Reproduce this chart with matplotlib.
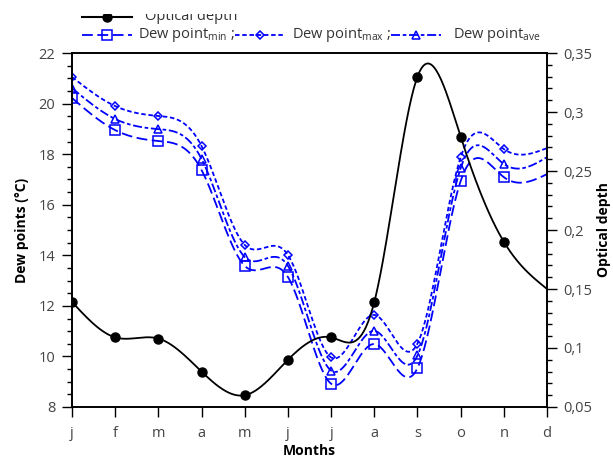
import numpy as np
import matplotlib
matplotlib.use("Agg")
import matplotlib.pyplot as plt
from matplotlib.ticker import MultipleLocator, FuncFormatter
from matplotlib.lines import Line2D
from matplotlib.patches import Rectangle

plt.rcParams['font.family'] = ['Open Sans', 'DejaVu Sans']
plt.rcParams['mathtext.fontset'] = 'custom'
plt.rcParams['mathtext.rm'] = 'Open Sans'

# Data
months = ["j", "f", "m", "a", "m", "j", "j", "a", "s", "o", "n", "d"]
optical_depth = [0.139, 0.109, 0.108, 0.080, 0.060, 0.090, 0.109, 0.139, 0.330, 0.279, 0.190, 0.150]
dew_min = [20.22, 18.95, 18.52, 17.37, 13.58, 13.14, 8.92, 10.49, 9.54, 16.94, 17.09, 17.21]
dew_max = [21.05, 19.90, 19.51, 18.32, 14.41, 14.01, 9.96, 11.64, 10.51, 17.88, 18.20, 18.24]
dew_ave = [20.61, 19.39, 18.99, 17.81, 13.93, 13.58, 9.44, 11.01, 10.04, 17.45, 17.61, 17.88]


def natural_spline(x, y, n=400):
    # natural cubic spline through the points (smooth line like the original)
    x = np.asarray(x, float)
    y = np.asarray(y, float)
    k = len(x)
    h = np.diff(x)
    A = np.zeros((k, k))
    b = np.zeros(k)
    A[0, 0] = A[-1, -1] = 1
    for i in range(1, k - 1):
        A[i, i - 1] = h[i - 1]
        A[i, i] = 2 * (h[i - 1] + h[i])
        A[i, i + 1] = h[i]
        b[i] = 3 * ((y[i + 1] - y[i]) / h[i] - (y[i] - y[i - 1]) / h[i - 1])
    c = np.linalg.solve(A, b)
    xs = np.linspace(x[0], x[-1], n)
    idx = np.clip(np.searchsorted(x, xs) - 1, 0, k - 2)
    dx = xs - x[idx]
    bb = (y[1:] - y[:-1]) / h - h * (2 * c[:-1] + c[1:]) / 3
    dd = (c[1:] - c[:-1]) / (3 * h)
    ys = y[idx] + bb[idx] * dx + c[idx] * dx ** 2 + dd[idx] * dx ** 3
    return xs, ys


x = np.arange(len(months))
blue = "#0000ff"

fig = plt.figure(figsize=(6.13, 4.59), dpi=100)
ax = fig.add_axes([0.1175, 0.1133, 0.7749, 0.7712])
ax2 = ax.twinx()

styles = [
    (dew_min, (0, (6, 2.5)), "s", 7, "min"),
    (dew_max, (0, (2.5, 1.5)), "D", 4.5, "max"),
    (dew_ave, (0, (5, 1.5, 2, 1.5)), "^", 5.5, "ave"),
]
for vals, ls, mk, ms, _ in styles:
    xs, ys = natural_spline(x, vals)
    ax.plot(xs, ys, color=blue, lw=1.3, ls=ls)
    ax.plot(x[:-1], vals[:-1], ls="none", marker=mk, ms=ms, mfc="none",
            mec=blue, mew=1.1)

xs, ys = natural_spline(x, optical_depth)
ax2.plot(xs, ys, color="black", lw=1.3)
ax2.plot(x[:-1], optical_depth[:-1], ls="none", marker="o", ms=6.5, color="black")

ax.set_xlim(0, 11)
ax.set_ylim(8, 22)
ax2.set_ylim(0.05, 0.35)
ax.set_xticks(x)
ax.set_xticklabels(months)
ax.yaxis.set_major_locator(MultipleLocator(2))
ax.yaxis.set_minor_locator(MultipleLocator(0.5))
ax2.yaxis.set_major_locator(MultipleLocator(0.05))
ax2.yaxis.set_minor_locator(MultipleLocator(0.01))
ax2.yaxis.set_major_formatter(FuncFormatter(lambda v, p: ("%g" % round(v, 2)).replace(".", ",")))

for a in (ax, ax2):
    a.tick_params(which="major", direction="out", length=7, width=1, labelsize=10.5,
                  labelcolor="#444444", pad=5)
    a.tick_params(which="minor", direction="out", length=3.5, width=1)
    for s in a.spines.values():
        s.set_linewidth(1.2)
ax.tick_params(axis="x", pad=7)

ax.set_xlabel("Months", fontsize=10, fontweight="bold", labelpad=2)
ax.set_ylabel("Dew points (°C)", fontsize=10, fontweight="bold", labelpad=7)
ax2.set_ylabel("Optical depth", fontsize=10, fontweight="bold", labelpad=3)

# Legend drawn by hand at the top (first row partly cut off as in the original)
def leg_line(x0, x1, y, **kw):
    fig.add_artist(Line2D([x0 / 613, x1 / 613], [1 - y / 459] * 2, **kw))

leg_line(82, 132, 17, color="black", lw=1.5)
fig.add_artist(Line2D([107 / 613], [1 - 17 / 459], marker="o", ms=6.5, color="black"))
fig.text(145 / 613, 1 - 16 / 459, "Optical depth", fontsize=10.5, va="center", color="#333333")
fig.add_artist(Rectangle((0, 1 - 14 / 459), 1, 14 / 459, transform=fig.transFigure,
                         facecolor="white", edgecolor="none", zorder=10))

rows = [(82, 132, 138, "Dew point$_{\\mathrm{min}}$ ;"),
        (235, 284, 292, "Dew point$_{\\mathrm{max}}$ ;"),
        (391, 441, 453, "Dew point$_{\\mathrm{ave}}$")]
for (vals, ls, mk, ms, _), (x0, x1, tx, label) in zip(styles, rows):
    leg_line(x0, x1, 35, color=blue, lw=1.3, ls=ls)
    fig.add_artist(Line2D([(x0 + x1) / 2 / 613], [1 - 35 / 459], marker=mk, ms=ms,
                          mfc="none", mec=blue, mew=1.1))
    fig.text(tx / 613, 1 - 35 / 459, label, fontsize=10.5, va="center", color="#333333")

fig.savefig("out.png", dpi=100)
